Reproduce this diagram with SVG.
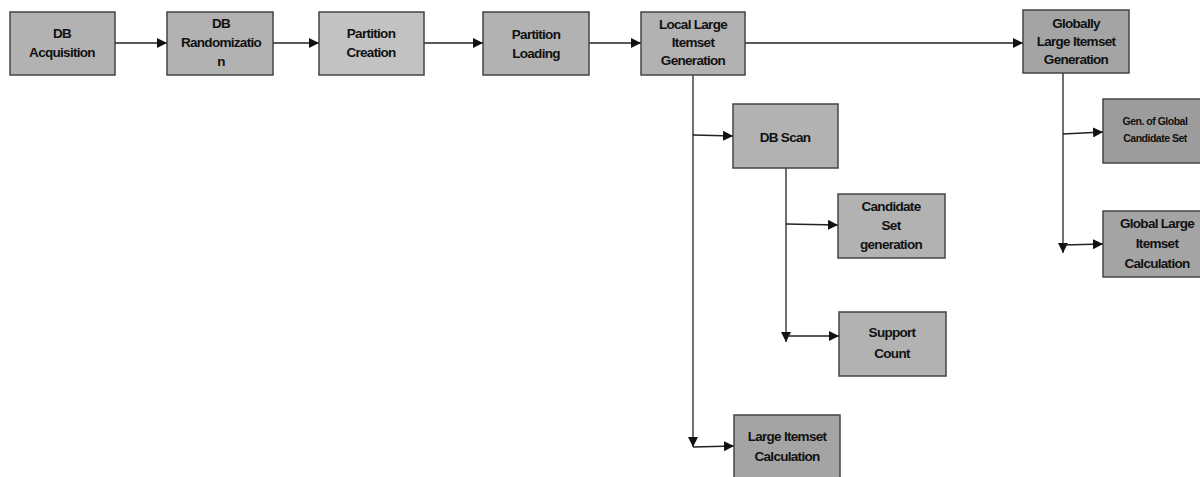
<svg xmlns="http://www.w3.org/2000/svg" width="1200" height="477" viewBox="0 0 1200 477">
<style>
.box{fill:#b2b2b2;stroke:#444;stroke-width:1.5}
.t{font-family:"Liberation Sans",Arial,sans-serif;font-size:13.5px;font-weight:bold;fill:#111;text-anchor:middle;letter-spacing:-0.7px}
.ts{font-size:10.5px;letter-spacing:-0.5px}
.c{fill:none;stroke:#222;stroke-width:1.3}
</style>
<defs>
<marker id="ah" viewBox="0 0 10 10" refX="10" refY="5" markerWidth="10" markerHeight="10" markerUnits="userSpaceOnUse" orient="auto">
<path d="M0,0 L10,5 L0,10 Z" fill="#111"/>
</marker>
</defs>
<rect width="1200" height="477" fill="#fff"/>
<g id="connectors">
<line class="c" x1="115" y1="43" x2="167" y2="43" marker-end="url(#ah)"/>
<line class="c" x1="273" y1="43" x2="319" y2="43" marker-end="url(#ah)"/>
<line class="c" x1="424" y1="43" x2="483" y2="43" marker-end="url(#ah)"/>
<line class="c" x1="589" y1="43" x2="641" y2="43" marker-end="url(#ah)"/>
<line class="c" x1="745" y1="43" x2="1023" y2="43" marker-end="url(#ah)"/>
<line class="c" x1="693" y1="75" x2="693" y2="447" marker-end="url(#ah)"/>
<line class="c" x1="693" y1="135" x2="733" y2="136" marker-end="url(#ah)"/>
<line class="c" x1="693" y1="447" x2="734" y2="446" marker-end="url(#ah)"/>
<line class="c" x1="786" y1="168" x2="786" y2="342" marker-end="url(#ah)"/>
<line class="c" x1="786" y1="224" x2="838" y2="225" marker-end="url(#ah)"/>
<line class="c" x1="786" y1="336" x2="839" y2="336" marker-end="url(#ah)"/>
<line class="c" x1="1063" y1="73" x2="1063" y2="253" marker-end="url(#ah)"/>
<line class="c" x1="1063" y1="134" x2="1103" y2="132" marker-end="url(#ah)"/>
<line class="c" x1="1063" y1="245" x2="1103" y2="244" marker-end="url(#ah)"/>
</g>
<g id="db-acquisition">
<rect class="box" x="10" y="12" width="105" height="63"/>
<text class="t" x="62" y="38">DB</text>
<text class="t" x="62" y="57">Acquisition</text>
</g>
<g id="db-randomization">
<rect class="box" x="167" y="12" width="106" height="63"/>
<text class="t" x="221" y="28">DB</text>
<text class="t" x="221" y="47">Randomizatio</text>
<text class="t" x="221" y="66">n</text>
</g>
<g id="partition-creation">
<rect class="box" x="319" y="12" width="105" height="63" style="fill:#c2c2c2"/>
<text class="t" x="371" y="38">Partition</text>
<text class="t" x="371" y="57">Creation</text>
</g>
<g id="partition-loading">
<rect class="box" x="483" y="12" width="106" height="63"/>
<text class="t" x="536" y="39">Partition</text>
<text class="t" x="536" y="58">Loading</text>
</g>
<g id="local-large">
<rect class="box" x="641" y="12" width="104" height="63"/>
<text class="t" x="693" y="29">Local Large</text>
<text class="t" x="693" y="47">Itemset</text>
<text class="t" x="693" y="65">Generation</text>
</g>
<g id="globally-large">
<rect class="box" x="1023" y="10" width="106" height="63" style="fill:#a4a4a4"/>
<text class="t" x="1076" y="28">Globally</text>
<text class="t" x="1076" y="46">Large Itemset</text>
<text class="t" x="1076" y="64">Generation</text>
</g>
<g id="db-scan">
<rect class="box" x="733" y="104" width="105" height="64"/>
<text class="t" x="785" y="142">DB Scan</text>
</g>
<g id="candidate-set">
<rect class="box" x="838" y="194" width="107" height="64"/>
<text class="t" x="891" y="211">Candidate</text>
<text class="t" x="891" y="230">Set</text>
<text class="t" x="891" y="249">generation</text>
</g>
<g id="support-count">
<rect class="box" x="839" y="312" width="107" height="64"/>
<text class="t" x="892" y="337">Support</text>
<text class="t" x="892" y="358">Count</text>
</g>
<g id="large-itemset-calc">
<rect class="box" x="734" y="415" width="106" height="64" style="fill:#a4a4a4"/>
<text class="t" x="787" y="441">Large Itemset</text>
<text class="t" x="787" y="461">Calculation</text>
</g>
<g id="gen-global-candidate">
<rect class="box" x="1103" y="99" width="106" height="64" style="fill:#9c9c9c"/>
<text class="t ts" x="1155" y="125">Gen. of Global</text>
<text class="t ts" x="1155" y="142">Candidate Set</text>
</g>
<g id="global-large-calc">
<rect class="box" x="1103" y="211" width="106" height="66" style="fill:#a4a4a4"/>
<text class="t" x="1157" y="228">Global Large</text>
<text class="t" x="1157" y="248">Itemset</text>
<text class="t" x="1157" y="268">Calculation</text>
</g>
</svg>
